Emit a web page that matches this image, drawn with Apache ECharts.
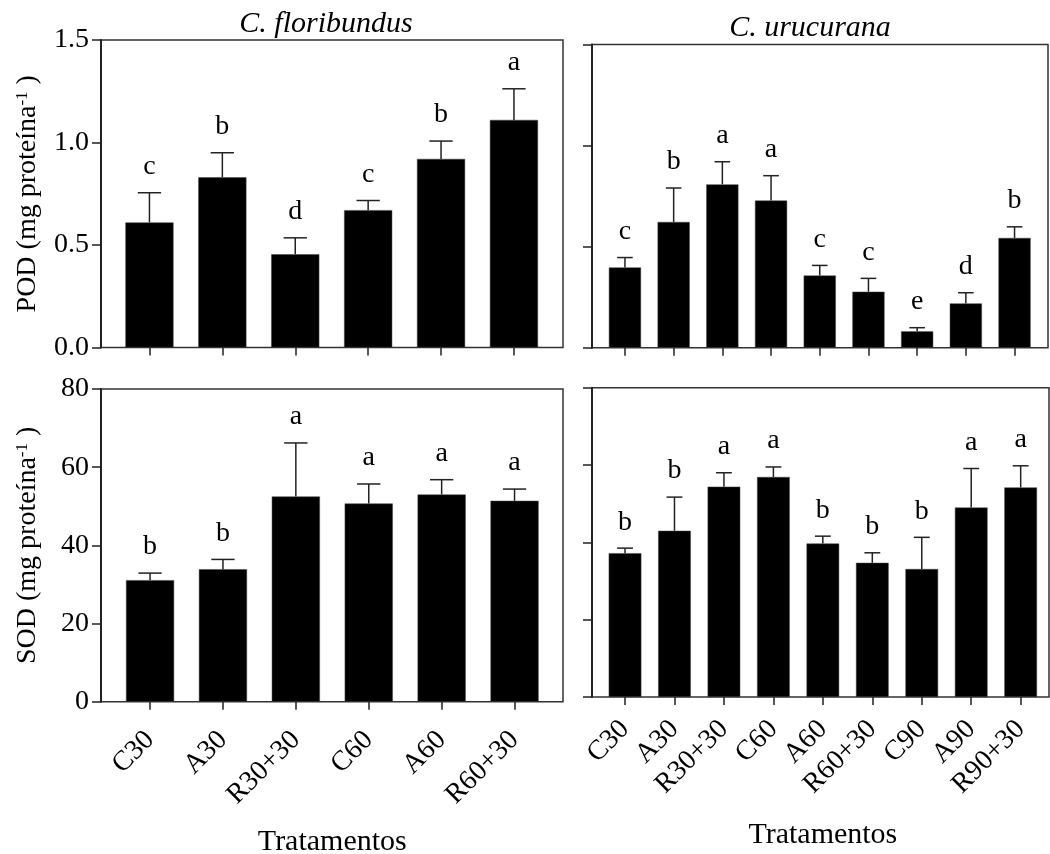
<!DOCTYPE html>
<html>
<head>
<meta charset="utf-8">
<script src="https://cdn.jsdelivr.net/npm/echarts@6/dist/echarts.min.js"></script>
<style>html,body{margin:0;padding:0;background:#fff}#c{width:1050px;height:854px}</style>
</head>
<body>
<div id="c"></div>
<script>
// ---- data ----
const catsCf = ['C30', 'A30', 'R30+30', 'C60', 'A60', 'R60+30'];
const catsCu = ['C30', 'A30', 'R30+30', 'C60', 'A60', 'R60+30', 'C90', 'A90', 'R90+30'];

const podCfMean = [0.61, 0.83, 0.455, 0.67, 0.92, 1.11];
const podCfErr = [0.145, 0.12, 0.08, 0.047, 0.087, 0.152];
const podCfLetters = ['c', 'b', 'd', 'c', 'b', 'a'];

const podCuMean = [0.397, 0.622, 0.808, 0.728, 0.357, 0.277, 0.081, 0.219, 0.543];
const podCuErr = [0.049, 0.168, 0.112, 0.123, 0.05, 0.066, 0.018, 0.053, 0.055];
const podCuLetters = ['c', 'b', 'a', 'a', 'c', 'c', 'e', 'd', 'b'];

const sodCfMean = [31.1, 33.9, 52.5, 50.7, 53.0, 51.4];
const sodCfErr = [1.8, 2.5, 13.7, 5.0, 3.8, 3.0];
const sodCfLetters = ['b', 'b', 'a', 'a', 'a', 'a'];

const sodCuMean = [37.2, 43.0, 54.4, 56.9, 39.7, 34.7, 33.1, 49.0, 54.2];
const sodCuErr = [1.3, 8.7, 3.6, 2.6, 1.9, 2.6, 8.2, 10.1, 5.6];
const sodCuLetters = ['b', 'b', 'a', 'a', 'b', 'b', 'b', 'a', 'a'];

const podTicks = [0, 1.5, 0.5];   // min, max, interval
const sodTicks = [0, 80, 20];

// ---- layout ----
const FONT = 'Liberation Serif';
const LINE = '#222';
const panels = [
  { frame: { left: 101, top: 40, width: 462, height: 307.5 }, bars: { left: 113, width: 437.4 },
    cats: catsCf, mean: podCfMean, err: podCfErr, letters: podCfLetters, ticks: podTicks,
    yLabels: true, yName: 'POD', fmt: v => v.toFixed(1), xLabels: false },
  { frame: { left: 592, top: 44.5, width: 456, height: 303.2 }, bars: { left: 600.6, width: 438.3 },
    cats: catsCu, mean: podCuMean, err: podCuErr, letters: podCuLetters, ticks: podTicks,
    yLabels: false, xLabels: false },
  { frame: { left: 101, top: 389, width: 462, height: 312.7 }, bars: { left: 113.6, width: 437.4 },
    cats: catsCf, mean: sodCfMean, err: sodCfErr, letters: sodCfLetters, ticks: sodTicks,
    yLabels: true, yName: 'SOD', fmt: v => String(v), xLabels: true, labelMargin: 34, nameGap: 125 },
  { frame: { left: 592, top: 387.7, width: 457, height: 309.3 }, bars: { left: 600.3, width: 445.1 },
    cats: catsCu, mean: sodCuMean, err: sodCuErr, letters: sodCuLetters, ticks: sodTicks,
    yLabels: false, xLabels: true, labelMargin: 28, nameGap: 123 }
];

const grid = [], xAxis = [], yAxis = [], series = [];
panels.forEach((p, k) => {
  const fi = 2 * k, bi = 2 * k + 1;
  grid.push(Object.assign({ show: true, borderColor: '#333', borderWidth: 1.5,
    containLabel: false, outerBoundsMode: 'none' }, p.frame));
  grid.push({ left: p.bars.left, width: p.bars.width, top: p.frame.top, height: p.frame.height,
    containLabel: false, outerBoundsMode: 'none' });

  xAxis.push({ gridIndex: fi, type: 'value', min: 0, max: 1, show: false });
  xAxis.push({
    gridIndex: bi, type: 'category', data: p.cats,
    axisLine: { show: false },
    axisTick: { show: true, alignWithLabel: true, interval: 0, length: 8, lineStyle: { color: LINE, width: 1.5 } },
    axisLabel: { show: p.xLabels, interval: 0, rotate: 45, margin: p.labelMargin || 10,
      fontFamily: FONT, fontSize: 28, color: '#000' },
    name: p.xLabels ? 'Tratamentos' : '', nameLocation: 'middle', nameGap: p.nameGap || 0,
    nameTextStyle: { fontFamily: FONT, fontSize: 30, color: '#000' }
  });

  const yf = {
    gridIndex: fi, type: 'value', min: p.ticks[0], max: p.ticks[1], interval: p.ticks[2],
    axisLine: { show: true, lineStyle: { color: LINE, width: 2 } },
    axisTick: { show: true, length: 9, lineStyle: { color: LINE, width: 1.5 } },
    axisLabel: { show: p.yLabels, margin: 12, fontFamily: FONT, fontSize: 28, color: '#000',
      formatter: p.fmt },
    splitLine: { show: false }
  };
  if (p.yName) {
    yf.name = '{n|' + p.yName + ' (mg proteína}{s|-1}{n| )}';
    yf.nameLocation = 'middle';
    yf.nameGap = 59;
    yf.nameTextStyle = { fontFamily: FONT, fontSize: 28, color: '#000',
      rich: { n: { fontFamily: FONT, fontSize: 28, color: '#000' },
              s: { fontFamily: FONT, fontSize: 17, color: '#000', verticalAlign: 'top' } } };
  }
  yAxis.push(yf);
  yAxis.push({ gridIndex: bi, type: 'value', min: p.ticks[0], max: p.ticks[1], interval: p.ticks[2], show: false });

  series.push({
    type: 'bar', xAxisIndex: bi, yAxisIndex: bi, data: p.mean, barWidth: '66%',
    itemStyle: { color: '#000', borderColor: '#444', borderWidth: 0.5 }, silent: true, animation: false
  });
  const letters = p.letters;
  series.push({
    type: 'custom', xAxisIndex: bi, yAxisIndex: bi, animation: false, silent: true, z: 5,
    data: p.mean.map((m, i) => [i, m, m + p.err[i]]),
    renderItem: function (params, api) {
      const i = api.value(0);
      const p0 = api.coord([i, api.value(1)]);
      const p1 = api.coord([i, api.value(2)]);
      const band = api.size([1, 0])[0];
      const cap = band * 0.16;
      const st = { stroke: LINE, lineWidth: 1.5 };
      return {
        type: 'group',
        children: [
          { type: 'line', shape: { x1: p0[0], y1: p0[1], x2: p1[0], y2: p1[1] }, style: st },
          { type: 'line', shape: { x1: p1[0] - cap, y1: p1[1], x2: p1[0] + cap, y2: p1[1] }, style: st },
          { type: 'text', x: p1[0], y: p1[1] - 12,
            style: { text: letters[params.dataIndex], fill: '#000', font: '28px "' + FONT + '"',
              align: 'center', verticalAlign: 'bottom' } }
        ]
      };
    }
  });
});

const chart = echarts.init(document.getElementById('c'), null, { renderer: 'canvas' });
chart.setOption({
  animation: false,
  backgroundColor: '#fff',
  grid, xAxis, yAxis, series,
  graphic: [
    { type: 'text', x: 326, y: 24, style: { text: 'C. floribundus', fill: '#000',
      font: 'italic 30px "' + FONT + '"', align: 'center', verticalAlign: 'middle' } },
    { type: 'text', x: 810, y: 28, style: { text: 'C. urucurana', fill: '#000',
      font: 'italic 30px "' + FONT + '"', align: 'center', verticalAlign: 'middle' } }
  ]
});
</script>
</body>
</html>
